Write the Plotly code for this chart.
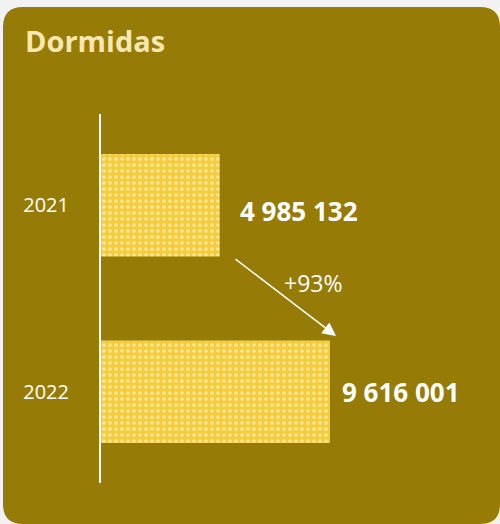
import plotly.graph_objects as go

years = ["2021", "2022"]
dormidas = [4985132, 9616001]
value_labels = ["4 985 132", "9 616 001"]
growth_label = "+93%"
title_text = "Dormidas"

W, H = 500, 524
ML, MR, MT, MB = 101, 20, 114, 41
PW, PH = W - ML - MR, H - MT - MB

def px(x):
    return (x - ML) / PW

def py(y):
    return (H - MB - y) / PH

card = "#977B07"
FONT = "Open Sans"
x0, x1, y0, y1, r = 3, 500, 7, 524, 20
path = (
    f"M {px(x0+r)},{py(y0)} L {px(x1-r)},{py(y0)} Q {px(x1)},{py(y0)} {px(x1)},{py(y0+r)} "
    f"L {px(x1)},{py(y1-r)} Q {px(x1)},{py(y1)} {px(x1-r)},{py(y1)} "
    f"L {px(x0+r)},{py(y1)} Q {px(x0)},{py(y1)} {px(x0)},{py(y1-r)} "
    f"L {px(x0)},{py(y0+r)} Q {px(x0)},{py(y0)} {px(x0+r)},{py(y0)} Z"
)

fig = go.Figure()
fig.add_trace(go.Bar(
    y=years, x=dormidas, orientation="h", width=0.55,
    marker=dict(color="#F5CD3A", line=dict(width=0),
                pattern=dict(shape=".", fgcolor="#FFFFFF", bgcolor="#F5CD3A", size=6, solidity=0.3)),
    hoverinfo="skip", showlegend=False,
))

label_shifts = [18, 10]
label_yshifts = [-6, 0]
for i, (v, lab) in enumerate(zip(dormidas, value_labels)):
    fig.add_annotation(x=v, y=i, xref="x", yref="y", text=f"<b>{lab}</b>", showarrow=False,
                       xanchor="left", xshift=label_shifts[i], yshift=label_yshifts[i],
                       font=dict(size=26, color="white", family=FONT))

fig.add_annotation(x=px(336), y=py(336), xref="paper", yref="paper", ax=-102, ay=-78,
                   text="", showarrow=True, arrowhead=2, arrowsize=1.8, arrowwidth=1.5,
                   arrowcolor="white", standoff=0)
fig.add_annotation(x=px(313), y=py(283), xref="paper", yref="paper", text=growth_label, showarrow=False,
                   xanchor="center", yanchor="middle",
                   font=dict(size=23, color="white", family=FONT))

fig.add_annotation(x=px(23), y=py(40), xref="paper", yref="paper", text=f"<b>{title_text}</b>",
                   showarrow=False, xanchor="left", yanchor="middle",
                   font=dict(size=29, color="#F8E7B0", family=FONT))

fig.update_layout(
    width=W, height=H, margin=dict(l=ML, r=MR, t=MT, b=MB),
    paper_bgcolor="#F2F2F2", plot_bgcolor="rgba(0,0,0,0)",
    shapes=[dict(type="path", path=path, xref="paper", yref="paper", fillcolor=card,
                 line=dict(width=0), layer="below")],
    xaxis=dict(range=[0, 9616001 * PW / 229], visible=False, fixedrange=True),
    yaxis=dict(type="category", categoryorder="array", categoryarray=years, autorange=False,
               range=[1.49, -0.49], showline=True, linecolor="white", linewidth=2, showgrid=False,
               zeroline=False, ticks="", ticklabelstandoff=26, fixedrange=True,
               tickfont=dict(size=20, color="white", family=FONT)),
)

fig.write_html("out.html", config={"displayModeBar": False},
               post_script="document.body.style.margin='0';")
